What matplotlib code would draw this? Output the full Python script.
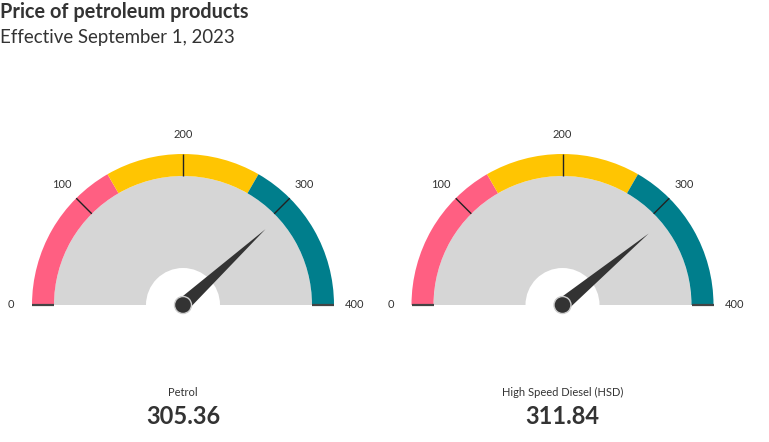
import matplotlib.pyplot as plt
import numpy as np
from matplotlib.patches import Wedge, Circle, Polygon

names = ['Petrol', 'High Speed Diesel (HSD)']
prices = [305.36, 311.84]
band_edges = [0, 133.33, 266.67, 400]
band_colors = ['#ff5f82', '#ffc502', '#007e8c']
ticks = [0, 100, 200, 300, 400]
vmin, vmax = 0, 400

plt.rcParams['font.family'] = ['Lato', 'DejaVu Sans']

W, H = 769, 442
fig = plt.figure(figsize=(W / 100, H / 100), dpi=100)
ax = fig.add_axes([0, 0, 1, 1])
ax.set_xlim(0, W)
ax.set_ylim(0, H)
ax.axis('off')

r_out, r_in, r_hole = 151, 129, 37
centers = [(183, H - 305), (562.5, H - 305)]


def ang(v):
    return 180 - (v - vmin) / (vmax - vmin) * 180


for (cx, cy), name, price in zip(centers, names, prices):
    ax.add_patch(Wedge((cx, cy), r_in, 0, 180, width=r_in - r_hole,
                       facecolor='#d6d6d6', edgecolor='none'))
    for lo, hi, col in zip(band_edges[:-1], band_edges[1:], band_colors):
        ax.add_patch(Wedge((cx, cy), r_out, ang(hi), ang(lo), width=r_out - r_in,
                           facecolor=col, edgecolor='none'))
    for t in ticks:
        a = np.radians(ang(t))
        c, s = np.cos(a), np.sin(a)
        lw = 1.6 if t in (vmin, vmax) else 1.0
        col = '#444444' if t in (vmin, vmax) else '#222222'
        ax.plot([cx + r_in * c, cx + r_out * c], [cy + r_in * s, cy + r_out * s],
                color=col, lw=lw, solid_capstyle='butt')
        ax.text(cx + 172 * c, cy + 170 * s, str(t), ha='center', va='center',
                fontsize=8, color='#333333')
    a = np.radians(ang(price))
    c, s = np.cos(a), np.sin(a)
    hw = 7
    pts = [(cx - hw * s, cy + hw * c), (cx + 112 * c, cy + 112 * s),
           (cx + hw * s, cy - hw * c)]
    ax.add_patch(Polygon(pts, closed=True, facecolor='#333333', edgecolor='none'))
    ax.add_patch(Circle((cx, cy), 8.5, facecolor='#333333', edgecolor='#cccccc', lw=1))
    ax.text(cx, H - 392, name, ha='center', va='center', fontsize=8, color='#333333')
    ax.text(cx, H - 417, f'{price:.2f}', ha='center', va='center', fontsize=17,
            fontweight='bold', color='#333333')

fig.text(0, 1 - 12 / H, 'Price of petroleum products', ha='left', va='center',
         fontsize=14.3, fontweight='bold', color='#333333')
fig.text(0, 1 - 37 / H, 'Effective September 1, 2023', ha='left', va='center',
         fontsize=13.4, color='#333333')

fig.savefig('out.png', dpi=100)
